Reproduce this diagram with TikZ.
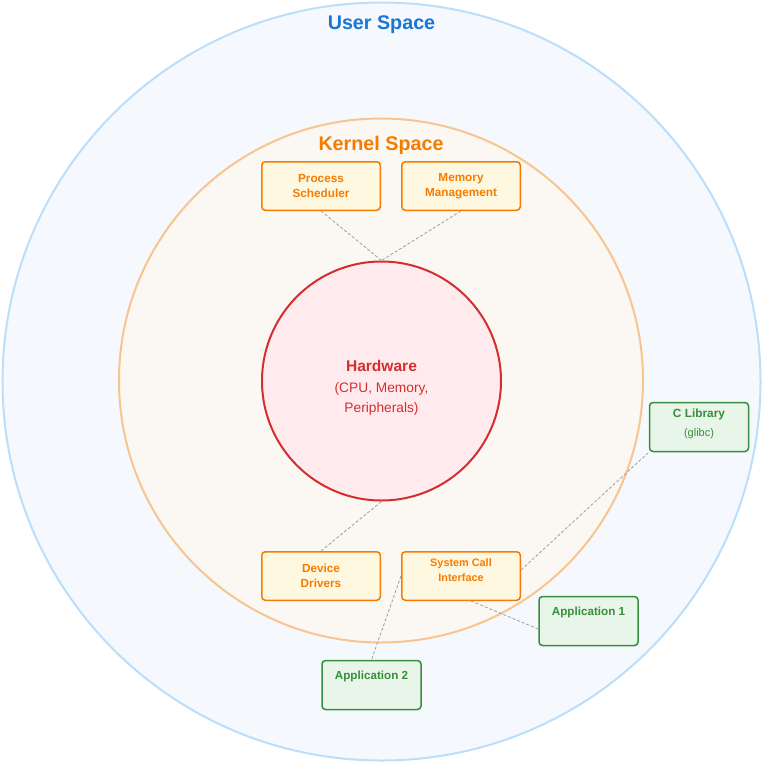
\documentclass[tikz,border=0pt]{standalone}
\usepackage{fontspec}
\setmainfont{Liberation Sans}
\definecolor{ublue}{HTML}{1976D2}
\definecolor{ufill}{HTML}{F5F9FD}
\definecolor{uline}{HTML}{BBDEFB}
\definecolor{kfill}{HTML}{FBF7F2}
\definecolor{kline}{HTML}{F8C490}
\definecolor{korange}{HTML}{F57C00}
\definecolor{kbfill}{HTML}{FFF8E1}
\definecolor{hfill}{HTML}{FFEBEE}
\definecolor{hred}{HTML}{D32F2F}
\definecolor{gfill}{HTML}{E8F5E9}
\definecolor{gline}{HTML}{388E3C}
\definecolor{conn}{HTML}{9E9E9E}
\tikzset{
  kbox/.style={draw=korange, fill=kbfill, line width=1.5bp, rounded corners=3.5bp,
    minimum width=118.5bp, minimum height=48.5bp, inner sep=0pt, align=center,
    text=korange, font=\fontsize{11.8}{14.5}\selectfont\bfseries},
  ubox/.style={draw=gline, fill=gfill, line width=1.5bp, rounded corners=3.5bp,
    minimum width=99bp, minimum height=49bp, inner sep=0pt, align=center,
    text=gline, font=\fontsize{11.8}{15}\selectfont\bfseries},
  lbl/.style={inner sep=0pt, align=center},
  connector/.style={draw=conn, line width=0.8bp, dash pattern=on 3bp off 2bp},
}
\begin{document}
\begin{tikzpicture}[x=1bp,y=-1bp]
\useasboundingbox (0,0) rectangle (763,763);
\node[circle, draw=uline, fill=ufill, line width=2bp, minimum size=758bp, inner sep=0pt] (user) at (381.5,381.5) {};
\node[text=ublue, font=\fontsize{19.8}{22}\selectfont\bfseries] (usertitle) at (381.5,25) {User Space};
\node[circle, draw=kline, fill=kfill, line width=2bp, minimum size=524bp, inner sep=0pt] (kernel) at (381,380.5) {};
\node[text=korange, font=\fontsize{19.8}{22}\selectfont\bfseries] (kerneltitle) at (381,145.5) {Kernel Space};
\node[circle, draw=hred, fill=hfill, line width=2bp, minimum size=239bp, inner sep=0pt] (hw) at (381.5,381) {};
\node[lbl, text=hred, font=\fontsize{15.6}{18}\selectfont\bfseries] (hwtitle) at (381.5,366) {Hardware};
\node[lbl, text=hred, font=\fontsize{13.8}{20}\selectfont] (hwsub) at (381.5,398.5) {(CPU, Memory,\\Peripherals)};

\node[kbox] (ps) at (321,186) {Process\\Scheduler};
\node[kbox] (mm) at (461,186) {Memory\\Management};
\node[kbox] (dd) at (321,576) {Device\\Drivers};
\node[kbox, label={[lbl, text=korange, font=\fontsize{10.9}{14.3}\selectfont\bfseries, yshift=6bp]center:System Call\\Interface}] (sci) at (461,576) {};
\node[ubox, label={[lbl, text=gline, font=\fontsize{11.9}{15}\selectfont\bfseries, yshift=13bp]center:C Library}, label={[lbl, text=gline, font=\fontsize{11}{13}\selectfont, yshift=-7bp]center:(glibc)}] (clib) at (699,427) {};
\node[ubox, label={[lbl, text=gline, font=\fontsize{11.7}{15}\selectfont\bfseries, yshift=8.5bp]center:Application 1}] (app1) at (588.5,621) {};
\node[ubox, label={[lbl, text=gline, font=\fontsize{11.7}{15}\selectfont\bfseries, yshift=9bp]center:Application 2}] (app2) at (371.5,685) {};

\draw[connector] (ps.south) -- (hw.north);
\draw[connector] (mm.south) -- (hw.north);
\draw[connector] (dd.north) -- (hw.south);
\draw[connector] ([yshift=6bp]sci.east) -- (clib.south west);
\draw[connector] ([xshift=10bp]sci.south) -- ([yshift=-8bp]app1.west);
\draw[connector] (sci.west) -- (app2.north);
\end{tikzpicture}
\end{document}
